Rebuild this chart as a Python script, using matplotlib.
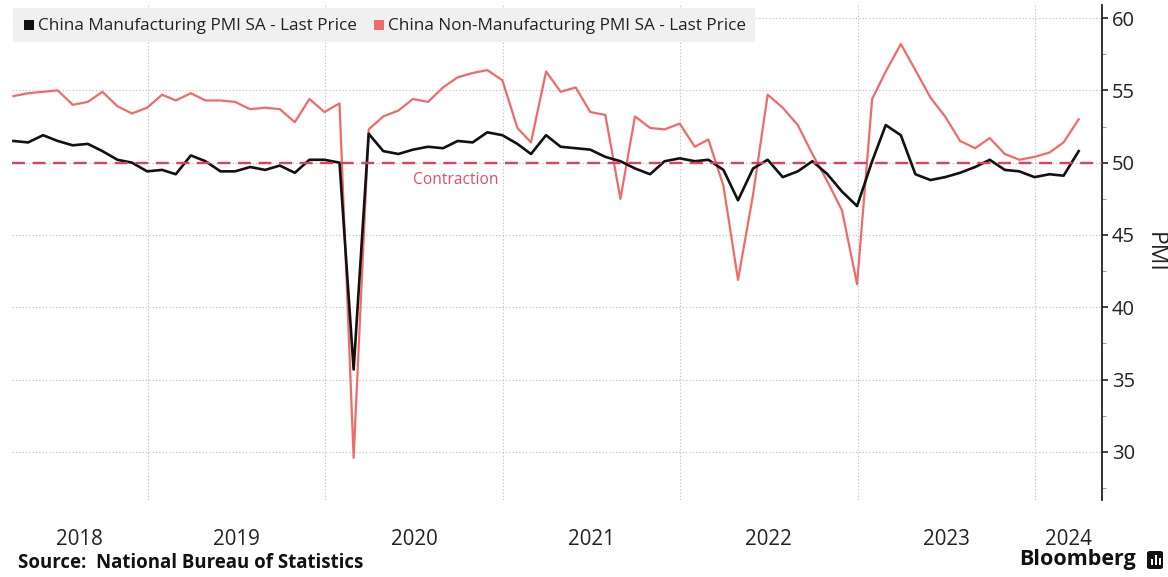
import matplotlib
matplotlib.use("Agg")
import matplotlib.pyplot as plt
from matplotlib.patches import Rectangle, FancyBboxPatch
import pandas as pd
import numpy as np

# Monthly readings, Mar 2018 - Mar 2024 (month-end dates)
start_month = "2018-03-31"
manufacturing = [
    51.5, 51.4, 51.9, 51.5, 51.2, 51.3, 50.8, 50.2, 50.0, 49.4,          # 2018
    49.5, 49.2, 50.5, 50.1, 49.4, 49.4, 49.7, 49.5, 49.8, 49.3, 50.2, 50.2,  # 2019
    50.0, 35.7, 52.0, 50.8, 50.6, 50.9, 51.1, 51.0, 51.5, 51.4, 52.1, 51.9,  # 2020
    51.3, 50.6, 51.9, 51.1, 51.0, 50.9, 50.4, 50.1, 49.6, 49.2, 50.1, 50.3,  # 2021
    50.1, 50.2, 49.5, 47.4, 49.6, 50.2, 49.0, 49.4, 50.1, 49.2, 48.0, 47.0,  # 2022
    50.1, 52.6, 51.9, 49.2, 48.8, 49.0, 49.3, 49.7, 50.2, 49.5, 49.4, 49.0,  # 2023
    49.2, 49.1, 50.8,                                                    # 2024
]
non_manufacturing = [
    54.6, 54.8, 54.9, 55.0, 54.0, 54.2, 54.9, 53.9, 53.4, 53.8,
    54.7, 54.3, 54.8, 54.3, 54.3, 54.2, 53.7, 53.8, 53.7, 52.8, 54.4, 53.5,
    54.1, 29.6, 52.3, 53.2, 53.6, 54.4, 54.2, 55.2, 55.9, 56.2, 56.4, 55.7,
    52.4, 51.4, 56.3, 54.9, 55.2, 53.5, 53.3, 47.5, 53.2, 52.4, 52.3, 52.7,
    51.1, 51.6, 48.4, 41.9, 47.8, 54.7, 53.8, 52.6, 50.6, 48.7, 46.7, 41.6,
    54.4, 56.3, 58.2, 56.4, 54.5, 53.2, 51.5, 51.0, 51.7, 50.6, 50.2, 50.4,
    50.7, 51.4, 53.0,
]
years = ["2018", "2019", "2020", "2021", "2022", "2023", "2024"]
y_ticks = [30, 35, 40, 45, 50, 55, 60]
threshold = 50

legend_labels = ["China Manufacturing PMI SA - Last Price",
                 "China Non-Manufacturing PMI SA - Last Price"]
black = "#111111"
salmon = "#f06a6a"
crimson = "#e0405e"

dates = pd.date_range(start_month, periods=len(manufacturing), freq="ME")

W, H = 1168, 577
fig = plt.figure(figsize=(W / 100, H / 100), dpi=100)
fig.patch.set_facecolor("white")
plt.rcParams["font.family"] = ["Open Sans", "DejaVu Sans"]

left_px, right_px, top_px, bottom_px = 12, 1102, 5, 500
ax = fig.add_axes([left_px / W, 1 - bottom_px / H,
                   (right_px - left_px) / W, (bottom_px - top_px) / H])

x_left = pd.Timestamp("2018-03-28")
x_right = pd.Timestamp("2024-05-18")
ax.set_xlim(x_left, x_right)
ax.set_ylim(26.68, 60.9)

ax.plot(dates, non_manufacturing, color=salmon, lw=1.6, zorder=3)
ax.plot(dates, manufacturing, color=black, lw=1.9, zorder=4)
ax.axhline(threshold, color=crimson, lw=1.7, dashes=(5.5, 3.2), zorder=5)
ax.text(pd.Timestamp("2020-09-27"), threshold - 1.2, "Contraction",
        color="#d9506a", fontsize=11.2, ha="center", va="center", zorder=5)

# Year gridlines at Jan 1, labels centred in each year span
year_starts = [pd.Timestamp(f"{y}-01-01") for y in years[1:]]
bounds = [x_left] + year_starts + [x_right]
label_pos = [bounds[i] + (bounds[i + 1] - bounds[i]) / 2 for i in range(len(years))]
ax.set_xticks(year_starts)
ax.set_xticks(label_pos, minor=True)
ax.set_xticklabels([])
ax.set_xticklabels(years, minor=True)
ax.tick_params(axis="x", which="both", length=0)
ax.tick_params(axis="x", which="minor", pad=21, labelsize=14.8, labelcolor="#222222")

ax.set_yticks(y_ticks)
ax.set_yticks(np.arange(27.5, 60.1, 5), minor=True)
ax.yaxis.tick_right()
ax.tick_params(axis="y", which="major", length=4, width=1.2, color="#222222",
               pad=3, labelsize=14.5, labelcolor="#222222", direction="out")
ax.tick_params(axis="y", which="minor", length=3, width=0.8, color="#999999",
               direction="out")

ax.grid(True, which="major", axis="both", color="#c4c4c4", lw=0.8,
        linestyle=(0, (1.2, 1.8)), zorder=0)
for side in ("left", "top", "bottom"):
    ax.spines[side].set_visible(False)
ax.spines["right"].set_color("#222222")
ax.spines["right"].set_linewidth(1.3)

fig.text(1155 / W, 1 - 252 / H, "PMI", rotation=270, ha="center", va="center",
         fontsize=16.5, color="#222222")

# Legend strip
fig.patches.append(Rectangle((13 / W, 1 - 42 / H), (755 - 13) / W, 34 / H,
                             transform=fig.transFigure, facecolor="#f0f0f0",
                             edgecolor="none", zorder=6))
for sq_x, txt_x, col, lab in [(24, 38, black, legend_labels[0]),
                              (374, 388, salmon, legend_labels[1])]:
    fig.patches.append(Rectangle((sq_x / W, 1 - 30 / H), 10 / W, 10 / H,
                                 transform=fig.transFigure, facecolor=col,
                                 edgecolor="none", zorder=7))
    fig.text(txt_x / W, 1 - 26 / H, lab, ha="left", va="center",
             fontsize=12.3, color="#222222", zorder=7)

fig.text(18 / W, 1 - 563 / H, "Source:  National Bureau of Statistics",
         ha="left", va="center", fontsize=13.4, fontweight="bold", color="#111111")
fig.text(1136 / W, 1 - 560 / H, "Bloomberg", ha="right", va="center",
         fontsize=15.5, fontweight="bold", color="#111111")

# Small logo mark next to the wordmark
fig.patches.append(FancyBboxPatch((1147 / W, 1 - 569 / H), 16 / W, 18 / H,
                                  boxstyle="round,pad=0,rounding_size=0.003",
                                  transform=fig.transFigure, facecolor="#111111",
                                  edgecolor="none"))
for bx, bh in [(1150.5, 6), (1154.5, 10), (1158.5, 7)]:
    fig.patches.append(Rectangle((bx / W, 1 - 565 / H), 2.2 / W, bh / H,
                                 transform=fig.transFigure, facecolor="white",
                                 edgecolor="none"))

fig.savefig("out.png", dpi=100)
